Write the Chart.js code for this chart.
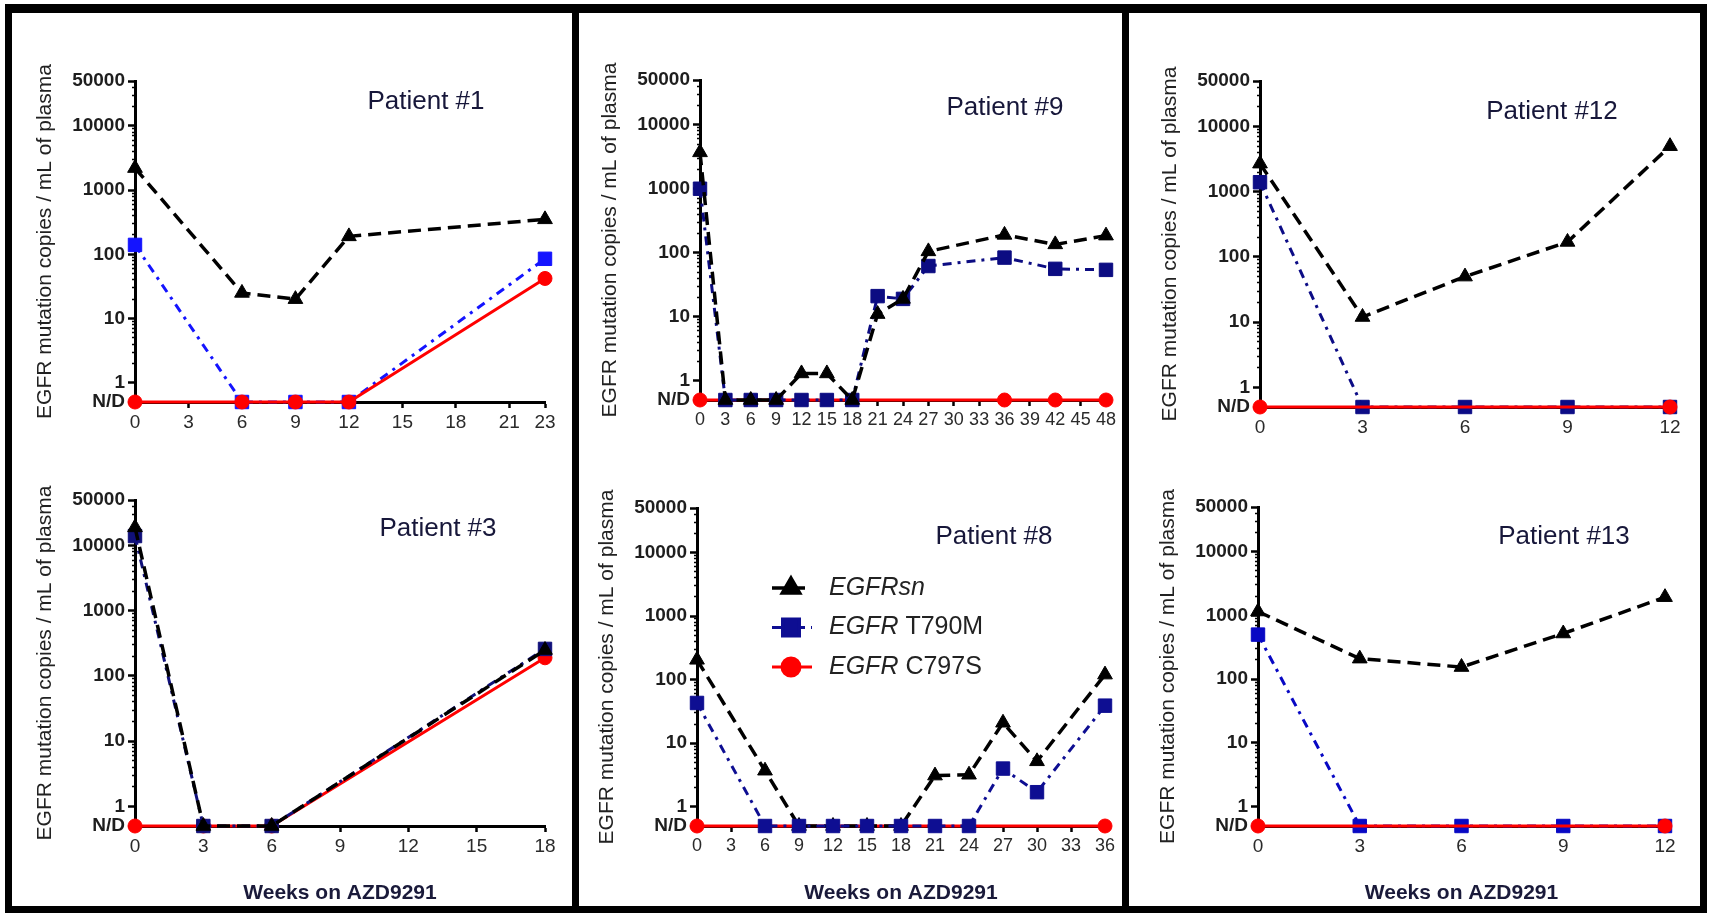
<!DOCTYPE html>
<html>
<head>
<meta charset="utf-8">
<script src="https://cdn.jsdelivr.net/npm/chart.js@4.4.1/dist/chart.umd.min.js"></script>
<style>
  html, body { margin: 0; padding: 0; background: #fff; }
  body { width: 1709px; height: 915px; position: relative; overflow: hidden; font-family: "Liberation Sans", Arial, sans-serif; }
  .frame { position: absolute; box-sizing: border-box; border: 0 solid #000; }
  .bar { position: absolute; background: #000; }
  .cell { position: absolute; }
  .ptitle { position: absolute; transform: translate(-50%, -50%); font-size: 26px; color: #17173a; white-space: nowrap; }
</style>
</head>
<body>
<div class="frame" style="left:5px;top:4px;width:1702px;height:909px;border-width:9px 7px 7px 7px;"></div>
<div class="bar" style="left:572px;top:4px;width:7px;height:909px;"></div>
<div class="bar" style="left:1122px;top:4px;width:7px;height:909px;"></div>

<script>
// N/D values sit on the bottom line of the log axis
const ND = 0.5;

// Patient #1
const p1Weeks = [0, 6, 9, 12, 23];
const p1Sn = [2200, 25, 20, 190, 350];
const p1T790M = [140, ND, ND, ND, 85];
const p1C797SWeeks = [0, 6, 9, 12, 23];
const p1C797S = [ND, ND, ND, ND, 42];
const p1Ticks = [0, 3, 6, 9, 12, 15, 18, 21, 23];

// Patient #9
const p9Weeks = [0, 3, 6, 9, 12, 15, 18, 21, 24, 27, 36, 42, 48];
const p9Sn = [3700, ND, ND, ND, 1.3, 1.3, ND, 11, 19, 105, 190, 135, 185];
const p9T790M = [1000, ND, ND, ND, ND, ND, ND, 21, 19, 62, 84, 56, 54];
const p9C797SWeeks = [0, 36, 42, 48];
const p9C797S = [ND, ND, ND, ND];
const p9Ticks = [0, 3, 6, 9, 12, 15, 18, 21, 24, 27, 30, 33, 36, 39, 42, 45, 48];

// Patient #12
const p12Weeks = [0, 3, 6, 9, 12];
const p12Sn = [2700, 12, 50, 170, 5000];
const p12T790M = [1400, ND, ND, ND, ND];
const p12C797SWeeks = [0, 12];
const p12C797S = [ND, ND];
const p12Ticks = [0, 3, 6, 9, 12];

// Patient #3
const p3Weeks = [0, 3, 6, 18];
const p3Sn = [19000, ND, ND, 250];
const p3T790M = [14000, ND, ND, 260];
const p3C797SWeeks = [0, 3, 6, 18];
const p3C797S = [ND, ND, ND, 190];
const p3Ticks = [0, 3, 6, 9, 12, 15, 18];

// Patient #8
const p8Weeks = [0, 6, 9, 12, 15, 18, 21, 24, 27, 30, 36];
const p8Sn = [205, 3.7, ND, ND, ND, ND, 3.1, 3.2, 21, 5.2, 120];
const p8T790M = [43, ND, ND, ND, ND, ND, ND, ND, 4.0, 1.7, 39];
const p8C797SWeeks = [0, 36];
const p8C797S = [ND, ND];
const p8Ticks = [0, 3, 6, 9, 12, 15, 18, 21, 24, 27, 30, 33, 36];

// Patient #13
const p13Weeks = [0, 3, 6, 9, 12];
const p13Sn = [1150, 210, 155, 520, 1930];
const p13T790M = [500, ND, ND, ND, ND];
const p13C797SWeeks = [0, 12];
const p13C797S = [ND, ND];
const p13Ticks = [0, 3, 6, 9, 12];

const yMajor = [ND, 1, 10, 100, 1000, 10000, 50000];
const seriesNames = ['EGFRsn', 'EGFR T790M', 'EGFR C797S'];

// log ticks: majors plus 2..9 in every decade
const yTicks = [ND];
for (let d = 1; d < 50000; d *= 10) {
  for (let m = 1; m < 10; m++) {
    if (d * m <= 50000) yTicks.push(d * m);
  }
}

Chart.defaults.font.family = '"Liberation Sans", Arial, sans-serif';

// order: [sn, t790, c797], lower draws on top
const panels = [
  { title: 'Patient #1', cell: [12, 13, 560, 442], area: [135, 81, 545, 402], titleAt: [426, 100],
    weeks: p1Weeks, sn: p1Sn, t790: p1T790M, cWeeks: p1C797SWeeks, c797: p1C797S, xTicks: p1Ticks,
    blue: '#1414ff', order: [0, 2, 1], tickSize: 19, bottom: false },
  { title: 'Patient #9', cell: [579, 13, 543, 442], area: [700, 80, 1106, 400], titleAt: [1005, 106],
    weeks: p9Weeks, sn: p9Sn, t790: p9T790M, cWeeks: p9C797SWeeks, c797: p9C797S, xTicks: p9Ticks,
    blue: '#0c0c82', order: [0, 1, 2], tickSize: 18, bottom: false },
  { title: 'Patient #12', cell: [1129, 13, 571, 442], area: [1260, 81, 1670, 407], titleAt: [1552, 110],
    weeks: p12Weeks, sn: p12Sn, t790: p12T790M, cWeeks: p12C797SWeeks, c797: p12C797S, xTicks: p12Ticks,
    blue: '#0c0c86', order: [0, 2, 1], tickSize: 19, bottom: false },
  { title: 'Patient #3', cell: [12, 455, 560, 451], area: [135, 500, 545, 826], titleAt: [438, 527],
    weeks: p3Weeks, sn: p3Sn, t790: p3T790M, cWeeks: p3C797SWeeks, c797: p3C797S, xTicks: p3Ticks,
    blue: '#10107a', order: [0, 1, 2], tickSize: 19, bottom: true },
  { title: 'Patient #8', cell: [579, 455, 543, 451], area: [697, 508, 1105, 826], titleAt: [994, 535],
    weeks: p8Weeks, sn: p8Sn, t790: p8T790M, cWeeks: p8C797SWeeks, c797: p8C797S, xTicks: p8Ticks,
    blue: '#0e0e92', order: [1, 0, 2], tickSize: 18, bottom: true, legend: true },
  { title: 'Patient #13', cell: [1129, 455, 571, 451], area: [1258, 507, 1665, 826], titleAt: [1564, 535],
    weeks: p13Weeks, sn: p13Sn, t790: p13T790M, cWeeks: p13C797SWeeks, c797: p13C797S, xTicks: p13Ticks,
    blue: '#0808c4', order: [0, 2, 1], tickSize: 19, bottom: true }
];

const Y_W = 102;

function pts(xs, ys) {
  return xs.map((x, i) => ({ x: x, y: ys[i] }));
}

const legendPlugin = {
  id: 'sideLegend',
  afterDatasetsDraw(chart, args, opts) {
    if (!opts.show) return;
    const ctx = chart.ctx;
    const ds = chart.data.datasets;
    const rows = [
      { d: ds[0], parts: [['EGFRsn', true]], r: 10 },
      { d: ds[1], parts: [['EGFR', true], [' T790M', false]], r: 12 },
      { d: ds[2], parts: [['EGFR', true], [' C797S', false]], r: 9 }
    ];
    rows.forEach((row, i) => {
      const y = opts.y + i * 39.5;
      ctx.save();
      ctx.strokeStyle = row.d.borderColor;
      ctx.lineWidth = row.d.borderWidth;
      ctx.setLineDash(row.d.borderDash || []);
      ctx.beginPath();
      ctx.moveTo(opts.x, y);
      ctx.lineTo(opts.x + 40, y);
      ctx.stroke();
      ctx.setLineDash([]);
      ctx.fillStyle = row.d.pointBackgroundColor;
      ctx.strokeStyle = row.d.pointBackgroundColor;
      Chart.helpers.drawPoint(ctx, { pointStyle: row.d.pointStyle, radius: row.r, rotation: 0, borderWidth: 1 }, opts.x + 19, y);
      let tx = opts.x + 57;
      ctx.fillStyle = '#222';
      ctx.textBaseline = 'middle';
      row.parts.forEach(([txt, ital]) => {
        ctx.font = (ital ? 'italic ' : '') + '25px "Liberation Sans", Arial, sans-serif';
        ctx.fillText(txt, tx, y);
        tx += ctx.measureText(txt).width;
      });
      ctx.restore();
    });
  }
};

panels.forEach(p => {
  const [cx, cy, cw, ch] = p.cell;
  const [L, T, R, B] = p.area;
  const xH = p.bottom ? 80 : 40;

  const cell = document.createElement('div');
  cell.className = 'cell';
  cell.style.cssText = `left:${cx}px;top:${cy}px;width:${cw}px;height:${ch}px;`;
  const cv = document.createElement('canvas');
  cell.appendChild(cv);
  document.body.appendChild(cell);

  const t = document.createElement('div');
  t.className = 'ptitle';
  t.textContent = p.title;
  t.style.left = p.titleAt[0] + 'px';
  t.style.top = p.titleAt[1] + 'px';
  document.body.appendChild(t);

  new Chart(cv, {
    type: 'line',
    data: {
      datasets: [
        { label: seriesNames[0], data: pts(p.weeks, p.sn), order: p.order[0],
          borderColor: '#000', backgroundColor: '#000', borderWidth: 3.5, borderDash: [13, 7],
          pointStyle: 'triangle', pointRadius: 8.5, pointBackgroundColor: '#000', pointBorderColor: '#000',
          pointBorderWidth: 1, clip: false },
        { label: seriesNames[1], data: pts(p.weeks, p.t790), order: p.order[1],
          borderColor: p.blue, backgroundColor: p.blue, borderWidth: 3, borderDash: [9, 6, 3, 6],
          pointStyle: 'rect', pointRadius: 9.5, pointBackgroundColor: p.blue, pointBorderColor: p.blue,
          pointBorderWidth: 1, clip: false },
        { label: seriesNames[2], data: pts(p.cWeeks, p.c797), order: p.order[2],
          borderColor: '#ff0000', backgroundColor: '#ff0000', borderWidth: 3,
          pointStyle: 'circle', pointRadius: 7, pointBackgroundColor: '#ff0000', pointBorderColor: '#ff0000',
          pointBorderWidth: 1, clip: false }
      ]
    },
    options: {
      responsive: true,
      maintainAspectRatio: false,
      animation: false,
      layout: { padding: { left: L - cx - Y_W, right: cx + cw - R, top: T - cy, bottom: cy + ch - B - xH } },
      plugins: {
        legend: { display: false },
        tooltip: { enabled: false },
        sideLegend: { show: !!p.legend, x: 772 - cx, y: 588 - cy }
      },
      scales: {
        x: {
          type: 'linear',
          min: 0,
          max: p.xTicks[p.xTicks.length - 1],
          afterBuildTicks: s => { s.ticks = p.xTicks.map(v => ({ value: v })); },
          afterFit: s => { s.height = xH; },
          ticks: { autoSkip: false, maxRotation: 0, padding: 3, color: '#2a2a2a',
                   font: { size: p.tickSize }, callback: v => String(v) },
          grid: { drawOnChartArea: false, tickLength: 6, tickWidth: 2.5, tickColor: '#000' },
          border: { color: '#000', width: 3 },
          title: { display: p.bottom, text: 'Weeks on AZD9291', color: '#1a1a3a',
                   font: { size: 21, weight: 'bold' }, padding: 0 }
        },
        y: {
          type: 'logarithmic',
          min: ND,
          max: 50000,
          afterBuildTicks: s => { s.ticks = yTicks.map(v => ({ value: v })); },
          afterFit: s => { s.width = Y_W; },
          ticks: { autoSkip: false, padding: 3, color: '#1e1e1e', font: { size: 19, weight: 'bold' },
                   callback: v => v === ND ? 'N/D' : (yMajor.includes(v) ? String(v) : '') },
          grid: {
            drawOnChartArea: false,
            tickLength: 7,
            tickColor: '#000',
            tickWidth: c => (c.tick && yMajor.includes(c.tick.value)) ? 2.5 : 1.5,
            tickBorderDash: c => (c.tick && yMajor.includes(c.tick.value)) ? [] : [0, 4, 12]
          },
          border: { color: '#000', width: 3 },
          title: { display: true, text: 'EGFR mutation copies / mL of plasma', color: '#222',
                   font: { size: 21 }, padding: 0 }
        }
      }
    },
    plugins: [legendPlugin]
  });
});
</script>
</body>
</html>
